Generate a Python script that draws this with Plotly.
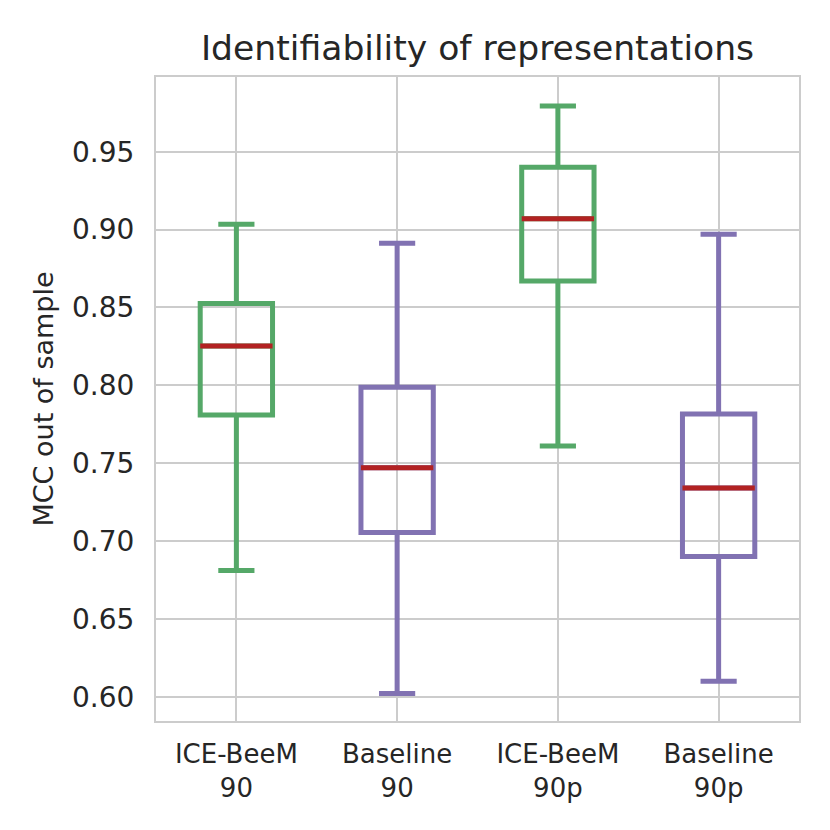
import plotly.graph_objects as go

# boxplot statistics
categories = ['ICE-BeeM<br>90', 'Baseline<br>90', 'ICE-BeeM<br>90p', 'Baseline<br>90p']
positions = [1, 2, 3, 4]
methods = ['ICE-BeeM', 'Baseline', 'ICE-BeeM', 'Baseline']

lower_whisker = [0.681, 0.602, 0.761, 0.610]
q1 = [0.781, 0.7055, 0.867, 0.690]
median = [0.8253, 0.747, 0.907, 0.734]
q3 = [0.8526, 0.7987, 0.940, 0.7816]
upper_whisker = [0.9034, 0.8912, 0.9793, 0.897]

colors = {'ICE-BeeM': '#55a868', 'Baseline': '#8172b2'}
median_color = '#b22222'
grid_color = '#cccccc'
text_color = '#262626'
box_width = 0.45
font = 'DejaVu Sans'


def pick(values, method):
    return [v for v, m in zip(values, methods) if m == method]


def median_segments(xs, ys, width):
    seg_x, seg_y = [], []
    for x, y in zip(xs, ys):
        seg_x += [x - width / 2, x + width / 2, None]
        seg_y += [y, y, None]
    return seg_x, seg_y


fig = go.Figure()

for method in ['ICE-BeeM', 'Baseline']:
    fig.add_trace(go.Box(
        x=pick(positions, method),
        lowerfence=pick(lower_whisker, method),
        q1=pick(q1, method),
        median=pick(median, method),
        q3=pick(q3, method),
        upperfence=pick(upper_whisker, method),
        width=box_width,
        whiskerwidth=0.5,
        line=dict(color=colors[method], width=5),
        fillcolor='rgba(0,0,0,0)',
        boxpoints=False,
        name=method,
        showlegend=False,
        hoverinfo='skip'))

mx, my = median_segments(positions, median, box_width)
fig.add_trace(go.Scatter(
    x=mx, y=my, mode='lines',
    line=dict(color=median_color, width=5),
    showlegend=False, hoverinfo='skip'))

# the page adds an 8px body margin, so margins are shifted by that
fig.update_layout(
    width=830, height=830,
    margin=dict(l=148, r=39, t=69, b=117),
    paper_bgcolor='white', plot_bgcolor='white',
    boxmode='overlay',
    font=dict(family=font, color=text_color),
    title=dict(text='Identifiability of representations',
               font=dict(size=34.6, color=text_color),
               x=0.5, xref='paper', xanchor='center',
               y=1 - 40 / 830, yref='container', yanchor='middle'))

fig.update_xaxes(
    range=[0.5, 4.5],
    tickmode='array', tickvals=positions, ticktext=categories,
    tickfont=dict(size=26, color=text_color),
    showgrid=True, gridcolor=grid_color, gridwidth=2,
    showline=True, linecolor=grid_color, linewidth=2, mirror=True,
    ticks='', ticklabelstandoff=9, zeroline=False)

fig.update_yaxes(
    range=[0.5844, 0.998],
    tickmode='array', tickvals=[0.60, 0.65, 0.70, 0.75, 0.80, 0.85, 0.90, 0.95],
    tickformat='.2f',
    tickfont=dict(size=28, color=text_color),
    showgrid=True, gridcolor=grid_color, gridwidth=2,
    showline=True, linecolor=grid_color, linewidth=2, mirror=True,
    ticks='', ticklabelstandoff=14, zeroline=False,
    title=dict(text='MCC out of sample', font=dict(size=27, color=text_color),
               standoff=11))

fig.write_html("out.html")
